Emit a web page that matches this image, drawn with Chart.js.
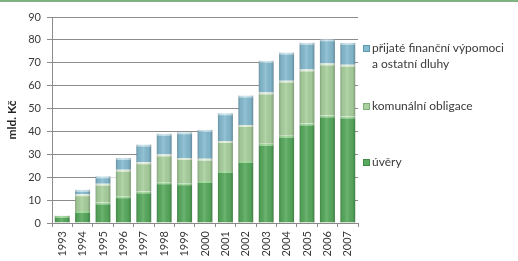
<!DOCTYPE html>
<html>
<head>
<meta charset="utf-8">
<script src="https://cdn.jsdelivr.net/npm/chart.js@4/dist/chart.umd.min.js"></script>
<style>
  html, body { margin: 0; padding: 0; background: #fff; }
  #wrap { position: relative; width: 518px; height: 261px; overflow: hidden; font-family: Lato, "Open Sans", sans-serif; }
  #topline { position: absolute; left: 0; top: 0; width: 518px; height: 2px; background: #7fb383; }
  #c { position: absolute; left: 0; top: 0; }
  .lg { position: absolute; left: 363px; font-size: 12px; color: #3a3a3a; line-height: 16px; white-space: nowrap; }
  .lg i { position: absolute; left: 0; top: 5px; }
  .lg span { display: block; padding-left: 9px; }
</style>
</head>
<body>
<div id="wrap">
  <canvas id="c" width="518" height="261"></canvas>
  <div id="topline"></div>
  <div id="legend"></div>
</div>
<script>
const years = ['1993','1994','1995','1996','1997','1998','1999','2000','2001','2002','2003','2004','2005','2006','2007'];
const uvery    = [3.2, 5.2, 9.0, 11.7, 13.8, 17.8, 17.4, 18.4, 22.7, 27.1, 34.6, 38.1, 43.5, 47.0, 46.5];
const obligace = [0.0, 7.4, 8.2, 11.6, 12.7, 12.1, 11.0,  9.7, 13.1, 15.7, 22.4, 24.1, 23.6, 22.7, 22.6];
const ostatni  = [0.0, 1.9, 3.2,  5.1,  7.8,  9.1, 11.2, 12.6, 12.2, 12.9, 13.9, 12.3, 11.7, 10.6,  9.6];
const seriesNames = ['úvěry', 'komunální obligace', 'přijaté finanční výpomoci\na ostatní dluhy'];
const yTicks = [0, 10, 20, 30, 40, 50, 60, 70, 80, 90];

const colors = ['#58aa5e', '#a9d09e', '#86bbd0'];
const hiColors = ['#a2dc9c', '#e5f3de', '#cae7f1'];

// HTML legend
const legendTops = [154, 98, 40];
const legend = document.getElementById('legend');
[2,1,0].forEach(i => {
  const d = document.createElement('div');
  d.className = 'lg';
  d.style.top = legendTops[i] + 'px';
  const m = document.createElement('i');
  m.style.background = colors[i];
  m.style.border = '1px solid ' + ['#3f8a45','#7fae78','#5a98b2'][i];
  m.style.width = '5px'; m.style.height = '5px';
  d.appendChild(m);
  seriesNames[i].split('\n').forEach(t => {
    const s = document.createElement('span');
    s.textContent = t;
    d.appendChild(s);
  });
  legend.appendChild(d);
});

// hide gridlines in gaps between adjacent bars (as in reference) + bar shading
const gapMask = {
  id: 'gapMask',
  beforeDatasetsDraw(chart) {
    const ctx = chart.ctx;
    const n = years.length;
    const last = chart.getDatasetMeta(chart.data.datasets.length - 1).data;
    const first = chart.getDatasetMeta(0).data;
    ctx.save();
    ctx.fillStyle = '#ffffff';
    for (let i = 0; i < n - 1; i++) {
      const a = last[i], b = last[i+1];
      const top = Math.max(a.y, b.y) + 1;
      const base = first[i].base;
      if (base - top > 0) ctx.fillRect(a.x, top, b.x - a.x, base - top - 1);
    }
    ctx.restore();
  },
  afterDatasetsDraw(chart) {
    const ctx = chart.ctx;
    ctx.save();
    chart.data.datasets.forEach((ds, di) => {
      chart.getDatasetMeta(di).data.forEach(el => {
        const w = el.width, x0 = el.x - w/2;
        const h = el.base - el.y;
        if (h <= 0.5) return;
        const g = ctx.createLinearGradient(x0, 0, x0 + w, 0);
        g.addColorStop(0, 'rgba(0,0,0,0.22)');
        g.addColorStop(0.15, 'rgba(0,0,0,0.05)');
        g.addColorStop(0.45, 'rgba(255,255,255,0.12)');
        g.addColorStop(0.8, 'rgba(0,0,0,0.04)');
        g.addColorStop(1, 'rgba(0,0,0,0.25)');
        ctx.fillStyle = g;
        ctx.fillRect(x0, el.y, w, h);
      });
    });
    ctx.restore();
  }
};

const mk = (label, data, i) => ({
  label, data,
  backgroundColor: colors[i],
  borderColor: hiColors[i],
  borderWidth: { top: 2, left: 0, right: 0, bottom: 0 },
  borderSkipped: false,
  barPercentage: 0.74,
  categoryPercentage: 1.0
});

new Chart(document.getElementById('c'), {
  type: 'bar',
  data: {
    labels: years,
    datasets: [
      mk(seriesNames[0], uvery, 0),
      mk(seriesNames[1], obligace, 1),
      mk(seriesNames[2], ostatni, 2)
    ]
  },
  options: {
    responsive: false,
    animation: false,
    devicePixelRatio: 1,
    layout: { padding: { left: 0, top: 17, right: 160, bottom: 0 } },
    plugins: { legend: { display: false }, tooltip: { enabled: false } },
    scales: {
      x: {
        stacked: true,
        afterFit: s => { s.height = 38; },
        grid: { display: true, drawOnChartArea: false, offset: true, tickLength: 4, color: '#8a8a8a' },
        border: { color: '#8a8a8a' },
        ticks: {
          minRotation: 90, maxRotation: 90, autoSkip: false, padding: 4,
          color: '#3a3a3a', font: { family: 'Lato', size: 11 }
        }
      },
      y: {
        stacked: true,
        min: 0, max: 90,
        afterFit: s => { s.width = 52; },
        afterBuildTicks: s => { s.ticks = yTicks.map(v => ({ value: v })); },
        grid: { color: '#8c8c8c', tickLength: 5, lineWidth: 1 },
        border: { color: '#8c8c8c' },
        ticks: { padding: 6, color: '#3a3a3a', font: { family: 'Lato', size: 11 } },
        title: {
          display: true, text: 'mld. Kč', color: '#222',
          font: { family: 'Lato', size: 12, weight: 'bold' },
          padding: { top: 5, bottom: 0 }
        }
      }
    }
  },
  plugins: [gapMask]
});
</script>
</body>
</html>
